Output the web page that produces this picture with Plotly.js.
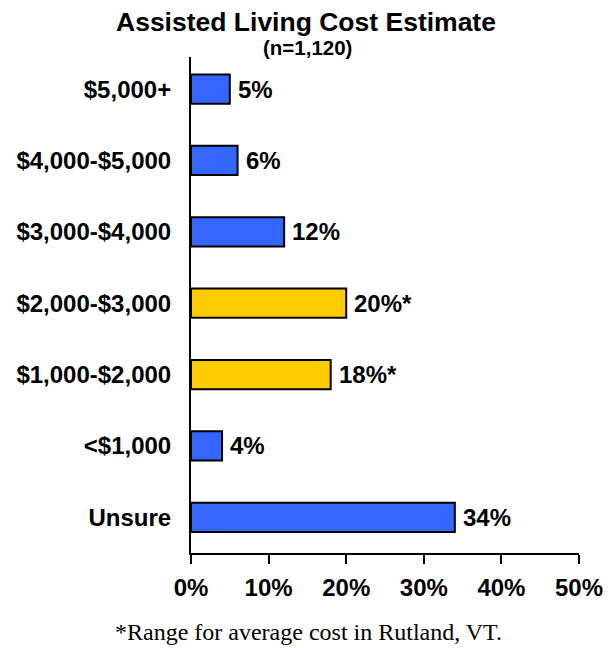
<!DOCTYPE html>
<html>
<head>
<meta charset="utf-8">
<script src="https://cdn.plot.ly/plotly-3.0.1.min.js"></script>
<style>html,body{margin:0;padding:0;background:#fff;}#chart{width:613px;height:648px;}</style>
</head>
<body>
<div id="chart"></div>
<script>
// Data (bottom to top, as Plotly draws categories)
var categories = ['Unsure', '<$1,000', '$1,000-$2,000', '$2,000-$3,000', '$3,000-$4,000', '$4,000-$5,000', '$5,000+'];
var values = [34, 4, 18, 20, 12, 6, 5];
var starred = [false, false, true, true, false, false, false];
var xTickVals = [0, 10, 20, 30, 40, 50];
var xTickText = ['0%', '10%', '20%', '30%', '40%', '50%'];
var titleText = 'Assisted Living Cost Estimate';
var subtitleText = '(n=1,120)';
var footnoteText = '*Range for average cost in Rutland, VT.';

var BLUE = '#3366FF', GOLD = '#FFCC00';
var FONT = 'Liberation Sans, Arial, sans-serif';

function esc(s){ return s.replace(/&/g,'&amp;').replace(/</g,'&lt;').replace(/>/g,'&gt;'); }

var trace = {
  type: 'bar',
  orientation: 'h',
  y: categories,
  x: values,
  width: 0.41,
  marker: {
    color: starred.map(function(s){ return s ? GOLD : BLUE; }),
    line: {color: '#000', width: 2}
  },
  hoverinfo: 'none'
};

var annotations = values.map(function(v, i){
  return {
    x: v, y: categories[i], xref: 'x', yref: 'y',
    text: '<b>' + v + '%' + (starred[i] ? '*' : '') + '</b>',
    showarrow: false, xanchor: 'left', yanchor: 'middle', xshift: 6,
    font: {family: FONT, size: 24, color: '#000'}
  };
});
annotations.push({
  xref: 'paper', yref: 'paper', x: 0.296, y: 1.07, xanchor: 'center', yanchor: 'middle',
  text: '<b>' + titleText + '</b>', showarrow: false,
  font: {family: FONT, size: 26.5, color: '#000'}
});
annotations.push({
  xref: 'paper', yref: 'paper', x: 0.30, y: 1.019, xanchor: 'center', yanchor: 'middle',
  text: '<b>' + subtitleText + '</b>', showarrow: false,
  font: {family: FONT, size: 20.5, color: '#000'}
});
annotations.push({
  xref: 'paper', yref: 'paper', x: 0.303, y: -0.159, xanchor: 'center', yanchor: 'middle',
  text: footnoteText, showarrow: false,
  font: {family: 'Liberation Serif, Times New Roman, serif', size: 24, color: '#000'}
});

var layout = {
  width: 613, height: 648,
  margin: {l: 191, r: 34, t: 57, b: 95, pad: 0},
  paper_bgcolor: '#fff', plot_bgcolor: '#fff',
  showlegend: false,
  xaxis: {
    range: [0, 50], tickvals: xTickVals, ticktext: xTickText,
    showgrid: false, zeroline: false,
    showline: true, linecolor: '#000', linewidth: 2,
    ticks: 'outside', ticklen: 9, tickwidth: 2, tickcolor: '#000',
    ticklabelstandoff: 3,
    tickfont: {family: FONT, size: 24, color: '#000', weight: 'bold'},
    fixedrange: true
  },
  yaxis: {
    type: 'category', range: [-0.5, 6.45],
    tickvals: categories, ticktext: categories.map(esc),
    showgrid: false, zeroline: false,
    showline: true, linecolor: '#000', linewidth: 2,
    ticks: '', ticklabelstandoff: 13,
    tickfont: {family: FONT, size: 24, color: '#000', weight: 'bold'},
    fixedrange: true
  },
  annotations: annotations
};

Plotly.newPlot('chart', [trace], layout, {displayModeBar: false, staticPlot: true});
</script>
</body>
</html>
